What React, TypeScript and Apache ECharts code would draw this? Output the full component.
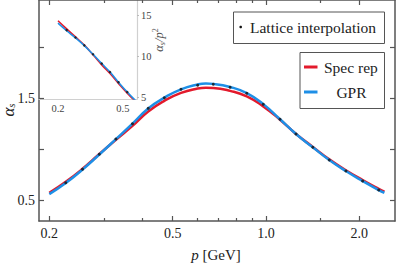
import React, { useEffect, useRef } from "react";
import * as echarts from "echarts";

// Lattice interpolation points
const latticeP = [0.226, 0.256, 0.29, 0.328, 0.371, 0.417, 0.47, 0.532, 0.602, 0.676, 0.766, 0.867, 0.98, 1.11, 1.25, 1.416, 1.6, 1.81, 2.05, 2.31];
const latticeAlpha = [0.672, 0.803, 0.95, 1.099, 1.249, 1.399, 1.503, 1.585, 1.624, 1.634, 1.605, 1.546, 1.438, 1.292, 1.148, 1.018, 0.894, 0.786, 0.689, 0.601];

// Reconstructed curves
const curveP = [0.2, 0.226, 0.256, 0.29, 0.328, 0.371, 0.417, 0.47, 0.532, 0.602, 0.64, 0.676, 0.766, 0.867, 0.98, 1.11, 1.25, 1.416, 1.6, 1.81, 2.05, 2.31, 2.41];
const specRep = [0.572, 0.68, 0.808, 0.952, 1.092, 1.228, 1.368, 1.472, 1.55, 1.592, 1.6, 1.598, 1.57, 1.516, 1.418, 1.288, 1.148, 1.022, 0.9, 0.794, 0.698, 0.612, 0.584];
const gpr = [0.56, 0.668, 0.8, 0.948, 1.098, 1.25, 1.398, 1.503, 1.585, 1.632, 1.642, 1.638, 1.608, 1.548, 1.44, 1.292, 1.148, 1.018, 0.894, 0.786, 0.688, 0.6, 0.574];

// Tick values
const xMajorTicks = [0.2, 0.5, 1.0, 2.0];
const xMinorTicks = [0.3, 0.4, 0.6, 0.7, 0.8, 0.9, 1.5];
const yTicks = [0.5, 1.0, 1.5, 2.0];
const yLabels = [0.5, 1.5];
const insetXTicks = [0.2, 0.5];
const insetYTicks = [5, 10, 15];

const RED = "#e31a2c";
const BLUE = "#1e8fe6";
const FONT = "Liberation Serif";
const AXIS = "#555";

const lg = (v: number) => Math.log10(v);

export default function App() {
  const ref = useRef<HTMLDivElement>(null);
  useEffect(() => {
    if (!ref.current) return;
    const chart = echarts.init(ref.current, null, { renderer: "svg" });
    const mainX = { min: lg(0.2) - 10.3 / 310, max: lg(0.2) + 345.7 / 310 };
    const mainY = { min: 0.5 - 20.7 / 102.3, max: 1.5 + 98 / 102.3 };
    const insetX = { min: lg(0.2) - 19 / 163, max: lg(0.2) + 79 / 163 };
    const insetY = { min: 5 - 2 / 8.2, max: 15 + 15 / 8.2 };
    const fmt = (v: number) => Math.pow(10, v).toFixed(1);

    const xAx = (gi: number, mm: any, pos: string, ticks: number[], len: number, labels: boolean, line: boolean) => ({
      type: "value",
      gridIndex: gi,
      position: pos,
      min: mm.min,
      max: mm.max,
      splitLine: { show: false },
      axisLine: { show: line, onZero: false, lineStyle: { color: AXIS, width: 1.5 } },
      axisTick: { show: true, inside: true, length: len, customValues: ticks.map(lg), lineStyle: { color: AXIS, width: 1.2 } },
      axisLabel: labels
        ? { show: true, customValues: ticks.map(lg), formatter: fmt, fontFamily: FONT, fontSize: 14, color: "#222", margin: 5 }
        : { show: false },
    });

    const option: any = {
      animation: false,
      grid: [
        { left: 39, right: 20, top: 0, bottom: 42 },
        { left: 39, right: 20, top: 0, bottom: 42 },
        { left: 39, top: 0, width: 98, height: 99 },
      ],
      xAxis: [
        xAx(0, mainX, "bottom", xMajorTicks, 5, true, true),
        xAx(0, mainX, "top", xMajorTicks, 5, false, true),
        xAx(1, mainX, "bottom", xMinorTicks, 3, false, false),
        xAx(1, mainX, "top", xMinorTicks, 3, false, false),
        {
          type: "value",
          gridIndex: 2,
          position: "bottom",
          min: insetX.min,
          max: insetX.max,
          splitLine: { show: false },
          axisLine: { show: true, onZero: false, lineStyle: { color: "#d0d0d0", width: 1.2 } },
          axisTick: { show: false },
          axisLabel: { show: true, customValues: insetXTicks.map(lg), formatter: fmt, fontFamily: FONT, fontSize: 10.5, color: "#444", margin: 4 },
        },
      ],
      yAxis: [
        {
          type: "value", gridIndex: 0, position: "left", min: mainY.min, max: mainY.max,
          splitLine: { show: false },
          axisLine: { show: true, onZero: false, lineStyle: { color: AXIS, width: 1.5 } },
          axisTick: { show: true, inside: true, length: 5, customValues: yTicks, lineStyle: { color: AXIS, width: 1.2 } },
          axisLabel: { show: true, customValues: yLabels, formatter: (v: number) => v.toFixed(1), fontFamily: FONT, fontSize: 14, color: "#222", margin: 4 },
        },
        {
          type: "value", gridIndex: 0, position: "right", min: mainY.min, max: mainY.max,
          splitLine: { show: false },
          axisLine: { show: true, onZero: false, lineStyle: { color: AXIS, width: 1.5 } },
          axisTick: { show: true, inside: true, length: 5, customValues: yTicks, lineStyle: { color: AXIS, width: 1.2 } },
          axisLabel: { show: false },
        },
        {
          type: "value", gridIndex: 1, min: mainY.min, max: mainY.max, show: false,
          axisLine: { show: false, onZero: false },
        },
        {
          type: "value", gridIndex: 2, position: "right", min: insetY.min, max: insetY.max,
          splitLine: { show: false },
          axisLine: { show: true, onZero: false, lineStyle: { color: "#d0d0d0", width: 1.2 } },
          axisTick: { show: true, inside: false, length: 2, customValues: insetYTicks, lineStyle: { color: "#bbb" } },
          axisLabel: { show: true, customValues: insetYTicks, fontFamily: FONT, fontSize: 10.5, color: "#444", margin: 4 },
        },
      ],
      series: [
        {
          type: "line", xAxisIndex: 0, yAxisIndex: 0, smooth: true, showSymbol: false,
          lineStyle: { color: RED, width: 2.5 },
          data: curveP.map((p, i) => [lg(p), specRep[i]]),
        },
        {
          type: "line", xAxisIndex: 0, yAxisIndex: 0, smooth: true, showSymbol: false,
          lineStyle: { color: BLUE, width: 2.5 },
          data: curveP.map((p, i) => [lg(p), gpr[i]]),
        },
        {
          type: "scatter", xAxisIndex: 0, yAxisIndex: 0, symbolSize: 3,
          itemStyle: { color: "#111" },
          data: latticeP.map((p, i) => [lg(p), latticeAlpha[i]]),
          z: 5,
        },
        {
          type: "line", xAxisIndex: 4, yAxisIndex: 3, smooth: true, showSymbol: false, clip: true,
          lineStyle: { color: RED, width: 1.6 },
          data: curveP.map((p, i) => [lg(p), specRep[i] / (p * p)]),
        },
        {
          type: "line", xAxisIndex: 4, yAxisIndex: 3, smooth: true, showSymbol: false, clip: true,
          lineStyle: { color: BLUE, width: 1.6 },
          data: curveP.map((p, i) => [lg(p), gpr[i] / (p * p)]),
        },
        {
          type: "scatter", xAxisIndex: 4, yAxisIndex: 3, symbolSize: 2.5, clip: true,
          itemStyle: { color: "#111" },
          data: latticeP.map((p, i) => [lg(p), latticeAlpha[i] / (p * p)]),
          z: 5,
        },
      ],
      graphic: [
        // axis titles
        {
          type: "text", x: 8, y: 110, rotation: Math.PI / 2,
          style: {
            text: "{a|α}{s|s}", align: "center", verticalAlign: "middle",
            rich: {
              a: { fontFamily: FONT, fontStyle: "italic", fontSize: 17, fill: "#222", lineHeight: 16, verticalAlign: "middle" },
              s: { fontFamily: FONT, fontStyle: "italic", fontSize: 10, fill: "#222", lineHeight: 16, verticalAlign: "bottom" },
            },
          },
        },
        {
          type: "text", x: 216, y: 255,
          style: {
            text: "{i|p} [GeV]", align: "center", verticalAlign: "middle",
            fontFamily: FONT, fontSize: 15, fill: "#222",
            rich: { i: { fontFamily: FONT, fontStyle: "italic", fontSize: 15, fill: "#222" } },
          },
        },
        {
          type: "text", x: 159, y: 40, rotation: Math.PI / 2,
          style: {
            text: "{a|α}{s|s}{a|/p}{t|2}", align: "center", verticalAlign: "middle",
            rich: {
              a: { fontFamily: FONT, fontStyle: "italic", fontSize: 12.5, fill: "#555", lineHeight: 15, verticalAlign: "middle" },
              s: { fontFamily: FONT, fontStyle: "italic", fontSize: 8, fill: "#555", lineHeight: 15, verticalAlign: "bottom" },
              t: { fontFamily: FONT, fontSize: 8, fill: "#555", lineHeight: 15, verticalAlign: "top" },
            },
          },
        },
        // legend 1
        {
          type: "rect", shape: { x: 233.5, y: 12, width: 151, height: 31.5 },
          style: { fill: "#fff", stroke: AXIS, lineWidth: 1 }, z: 10,
        },
        { type: "circle", shape: { cx: 240.7, cy: 27, r: 1.3 }, style: { fill: "#111" }, z: 11 },
        {
          type: "text", x: 250, y: 27, z: 11,
          style: { text: "Lattice interpolation", fontFamily: FONT, fontSize: 15.5, fill: "#222", align: "left", verticalAlign: "middle" },
        },
        // legend 2
        {
          type: "rect", shape: { x: 300, y: 52.5, width: 84.5, height: 56 },
          style: { fill: "#fff", stroke: AXIS, lineWidth: 1 }, z: 10,
        },
        { type: "line", shape: { x1: 304, y1: 67, x2: 317.5, y2: 67 }, style: { stroke: RED, lineWidth: 3 }, z: 11 },
        {
          type: "text", x: 324, y: 67, z: 11,
          style: { text: "Spec rep", fontFamily: FONT, fontSize: 15.5, fill: "#222", align: "left", verticalAlign: "middle" },
        },
        { type: "line", shape: { x1: 304, y1: 92, x2: 317.5, y2: 92 }, style: { stroke: BLUE, lineWidth: 3 }, z: 11 },
        {
          type: "text", x: 351.5, y: 92, z: 11,
          style: { text: "GPR", fontFamily: FONT, fontSize: 15.5, fill: "#222", align: "center", verticalAlign: "middle" },
        },
      ],
    };
    chart.setOption(option);
    return () => chart.dispose();
  }, []);
  return <div ref={ref} style={{ position: "fixed", left: 0, top: 0, width: 415, height: 263, background: "#fff" }} />;
}
